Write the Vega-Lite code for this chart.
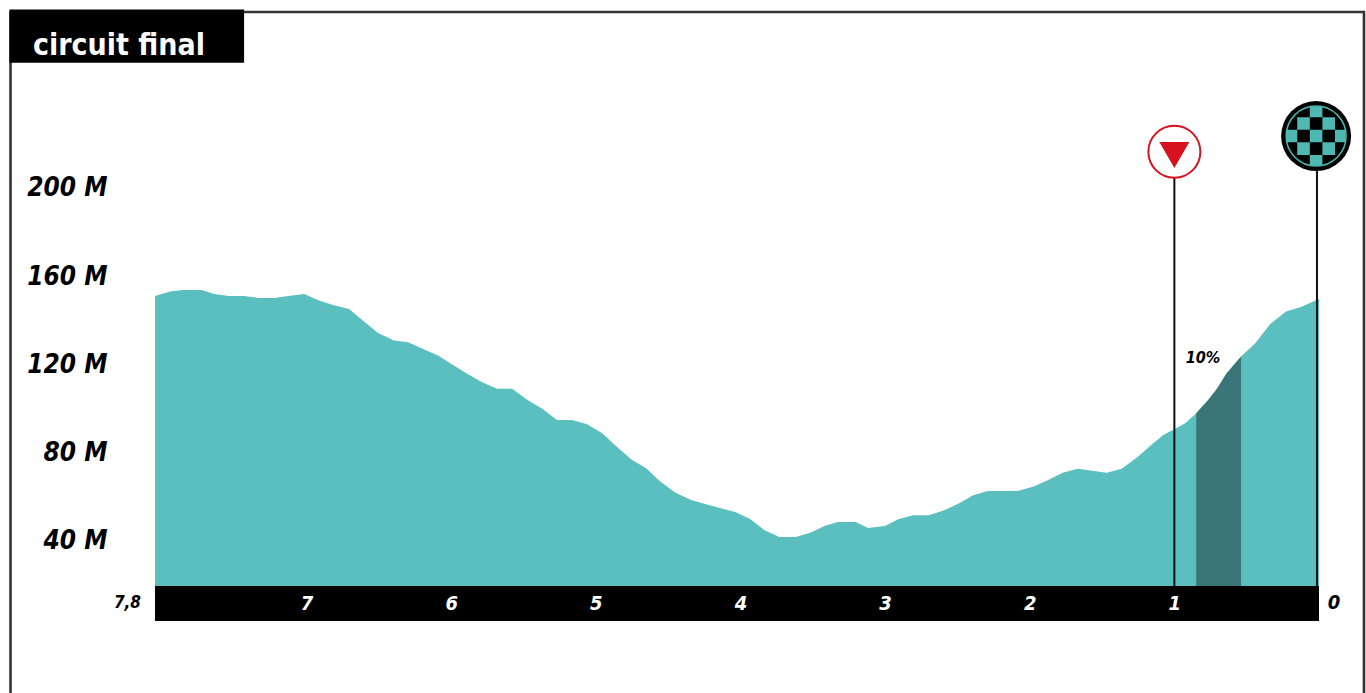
{"$schema":"https://vega.github.io/schema/vega-lite/v6.json","width":1164,"height":574,"autosize":"none","padding":{"left":155,"top":12,"right":47,"bottom":107},"background":"white","config":{"view":{"stroke":null},"font":"DejaVu Sans Condensed"},"datasets":{"profile":[{"km":8.048,"elev":150.1},{"km":7.944,"elev":152.1},{"km":7.854,"elev":152.8},{"km":7.725,"elev":152.8},{"km":7.64,"elev":151.0},{"km":7.536,"elev":150.1},{"km":7.432,"elev":150.1},{"km":7.335,"elev":149.2},{"km":7.225,"elev":149.2},{"km":7.114,"elev":150.2},{"km":7.017,"elev":151.0},{"km":6.914,"elev":148.0},{"km":6.817,"elev":146.0},{"km":6.706,"elev":144.2},{"km":6.609,"elev":138.9},{"km":6.506,"elev":133.3},{"km":6.395,"elev":129.9},{"km":6.298,"elev":129.1},{"km":6.194,"elev":126.1},{"km":6.091,"elev":123.1},{"km":5.987,"elev":118.8},{"km":5.89,"elev":114.8},{"km":5.786,"elev":111.0},{"km":5.683,"elev":108.1},{"km":5.579,"elev":108.1},{"km":5.475,"elev":103.1},{"km":5.371,"elev":99.0},{"km":5.268,"elev":93.9},{"km":5.164,"elev":93.9},{"km":5.06,"elev":92.0},{"km":4.956,"elev":87.9},{"km":4.853,"elev":81.7},{"km":4.749,"elev":75.8},{"km":4.652,"elev":72.0},{"km":4.555,"elev":66.0},{"km":4.452,"elev":61.0},{"km":4.341,"elev":57.6},{"km":4.244,"elev":55.8},{"km":4.136,"elev":53.9},{"km":4.032,"elev":52.1},{"km":3.933,"elev":49.0},{"km":3.834,"elev":44.0},{"km":3.73,"elev":40.9},{"km":3.617,"elev":40.9},{"km":3.518,"elev":42.8},{"km":3.419,"elev":45.9},{"km":3.328,"elev":47.7},{"km":3.204,"elev":47.7},{"km":3.117,"elev":45.0},{"km":3.002,"elev":45.9},{"km":2.909,"elev":48.9},{"km":2.806,"elev":50.8},{"km":2.698,"elev":50.8},{"km":2.591,"elev":53.0},{"km":2.488,"elev":56.2},{"km":2.391,"elev":59.8},{"km":2.29,"elev":61.7},{"km":2.086,"elev":61.7},{"km":1.976,"elev":63.7},{"km":1.876,"elev":66.6},{"km":1.772,"elev":70.0},{"km":1.668,"elev":71.8},{"km":1.468,"elev":70.0},{"km":1.364,"elev":71.8},{"km":1.257,"elev":77.0},{"km":1.16,"elev":82.6},{"km":1.077,"elev":87.1},{"km":1.001,"elev":89.7},{"km":0.925,"elev":92.4},{"km":0.849,"elev":96.9},{"km":0.766,"elev":103.0},{"km":0.703,"elev":108.3},{"km":0.641,"elev":114.8},{"km":0.539,"elev":122.7},{"km":0.441,"elev":128.7},{"km":0.337,"elev":137.4},{"km":0.228,"elev":143.0},{"km":0.129,"elev":145.0},{"km":0,"elev":148.7}]},"encoding":{"x":{"field":"km","type":"quantitative","scale":{"domain":[8.048,0],"nice":false,"zero":false},"axis":{"title":null,"values":[1,2,3,4,5,6,7],"grid":false,"ticks":false,"tickSize":0,"domain":false,"zindex":1,"offset":17.5,"labelPadding":0,"labelBaseline":"middle","labelAlign":"center","labelAngle":0,"labelColor":"white","labelFont":"DejaVu Sans Condensed","labelFontStyle":"italic","labelFontWeight":"bold","labelFontSize":20,"format":"d"}},"y":{"field":"elev","type":"quantitative","scale":{"domain":[18.7,278.7],"nice":false,"zero":false},"axis":{"title":null,"values":[40,80,120,160,200],"grid":false,"ticks":false,"tickSize":0,"domain":false,"offset":48,"labelPadding":0,"labelOffset":2,"labelAlign":"right","labelBaseline":"middle","labelColor":"black","labelFont":"DejaVu Sans Condensed","labelFontStyle":"italic","labelFontWeight":"bold","labelFontSize":26,"labelExpr":"datum.value + ' M'"}}},"layer":[{"data":{"values":[{"km":9.047,"elev":-29.8,"o":1},{"km":9.047,"elev":278.7,"o":2},{"km":-0.311,"elev":278.7,"o":3},{"km":-0.311,"elev":-29.8,"o":4}]},"mark":{"type":"line","stroke":"#333333","strokeWidth":2.6,"clip":false},"encoding":{"order":{"field":"o","type":"ordinal"}}},{"data":{"values":[{"km":9.054,"km2":7.432,"elev":279.8,"elev2":255.7}]},"mark":{"type":"rect","fill":"black"},"encoding":{"x2":{"field":"km2"},"y2":{"field":"elev2"}}},{"data":{"values":[{"km":8.892,"elev":259.4,"t":"circuit final"}]},"mark":{"type":"text","align":"left","baseline":"alphabetic","fill":"white","fontSize":30,"fontWeight":"bold","font":"DejaVu Sans Condensed"},"encoding":{"text":{"field":"t"}}},{"data":{"values":[{"km":8.048,"km2":0,"elev":18.7,"elev2":2.85}]},"mark":{"type":"rect","fill":"black"},"encoding":{"x2":{"field":"km2"},"y2":{"field":"elev2"}}},{"data":{"name":"profile"},"mark":{"type":"area","fill":"#5bbfbf","interpolate":"linear"},"encoding":{"y2":{"datum":18.7}}},{"data":{"name":"profile"},"transform":[{"filter":"datum.km >= 0.539 && datum.km <= 0.849"}],"mark":{"type":"area","fill":"#3a7677","interpolate":"linear"},"encoding":{"y2":{"datum":18.7}}},{"data":{"values":[{"km":1,"elev":215.4,"elev2":18.7},{"km":0.014,"elev":222.5,"elev2":18.7}]},"mark":{"type":"rule","stroke":"#111111","strokeWidth":2},"encoding":{"y2":{"field":"elev2"}}},{"data":{"values":[{"km":1,"elev":215.4}]},"mark":{"type":"point","shape":"circle","filled":true,"fill":"white","stroke":"#d7111d","strokeWidth":2,"size":2704,"opacity":1}},{"data":{"values":[{"km":1,"elev":215.4}]},"mark":{"type":"point","shape":"M-15 -9.7H15L0 16.3Z","filled":true,"fill":"#d7111d","size":4,"opacity":1}},{"data":{"values":[{"km":0.02,"elev":222.5}]},"mark":{"type":"point","shape":"circle","filled":true,"fill":"black","size":4900,"opacity":1}},{"data":{"values":[{"km":0.02,"elev":222.5}]},"mark":{"type":"point","shape":"circle","filled":false,"stroke":"#4db9b1","strokeWidth":1.5,"size":3600,"opacity":1}},{"data":{"values":[{"km":0.02,"elev":222.5}]},"mark":{"type":"point","shape":"M-.18 -.18H.18V.18H-.18ZM-.54 -.54H-.18V-.18H-.54ZM.18 -.54H.54V-.18H.18ZM-.54 .18H-.18V.54H-.54ZM.18 .18H.54V.54H.18ZM-.18 -.84H.18V-.54H-.18ZM-.18 .54H.18V.84H-.18ZM-.84 -.18H-.54V.18H-.84ZM.54 -.18H.84V.18H.54Z","filled":true,"fill":"#4db9b1","size":4900,"opacity":1}},{"data":{"values":[{"km":0.802,"elev":122,"t":"10%"}]},"mark":{"type":"text","align":"center","baseline":"middle","fill":"black","fontSize":16,"fontStyle":"italic","fontWeight":"bold","font":"DejaVu Sans Condensed"},"encoding":{"text":{"field":"t"}}},{"data":{"values":[{"km":8.048,"elev":10.8,"t":"7,8"}]},"mark":{"type":"text","align":"right","baseline":"middle","dx":-14,"fill":"black","fontSize":17,"fontStyle":"italic","fontWeight":"bold","font":"DejaVu Sans Condensed"},"encoding":{"text":{"field":"t"}}},{"data":{"values":[{"km":0,"elev":10.8,"t":"0"}]},"mark":{"type":"text","align":"center","baseline":"middle","dx":15,"fill":"black","fontSize":20,"fontStyle":"italic","fontWeight":"bold","font":"DejaVu Sans Condensed"},"encoding":{"text":{"field":"t"}}}]}
